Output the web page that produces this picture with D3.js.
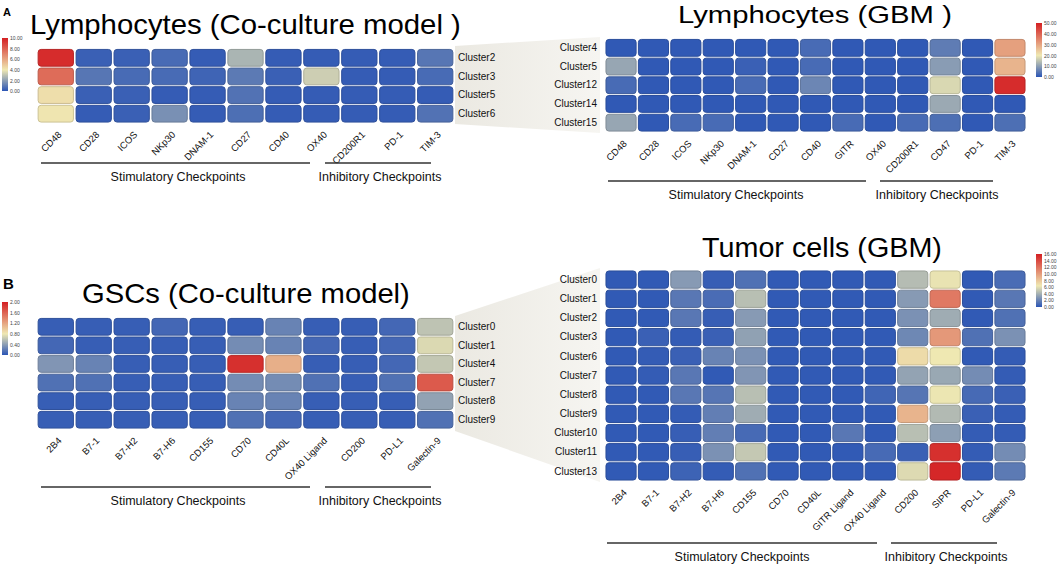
<!DOCTYPE html>
<html>
<head>
<meta charset="utf-8">
<script src="https://cdn.jsdelivr.net/npm/d3@7"></script>
<style>
  body { margin: 0; background: #fff; }
  svg { display: block; font-family: "Liberation Sans", Arial, sans-serif; }
</style>
</head>
<body>
<div id="chart"></div>
<script>
// ---- data ----
const lymphCoMarkers = ["CD48", "CD28", "ICOS", "NKp30", "DNAM-1", "CD27", "CD40", "OX40", "CD200R1", "PD-1", "TIM-3"];
const lymphCoClusters = ["Cluster2", "Cluster3", "Cluster5", "Cluster6"];
const lymphCoValues = [
  [9.6, 0.3, 0.3, 0.6, 0.2, 2.6, 0.2, 0.2, 0.2, 0.2, 0.9],
  [7.7, 0.9, 0.6, 0.6, 0.4, 1.0, 0.3, 3.3, 0.2, 0.2, 0.6],
  [4.3, 0.3, 0.3, 0.2, 0.2, 0.8, 0.2, 0.2, 0.2, 0.2, 0.2],
  [4.1, 0.2, 0.3, 1.6, 0.2, 0.7, 0.2, 0.2, 0.2, 0.2, 0.8]
];
const lymphCoLegend = [0, 2, 4, 6, 8, 10];

const lymphGbmMarkers = ["CD48", "CD28", "ICOS", "NKp30", "DNAM-1", "CD27", "CD40", "GITR", "OX40", "CD200R1", "CD47", "PD-1", "TIM-3"];
const lymphGbmClusters = ["Cluster4", "Cluster5", "Cluster12", "Cluster14", "Cluster15"];
const lymphGbmValues = [
  [0.5, 0.5, 0.5, 0.5, 0.5, 0.5, 3.0, 0.5, 0.5, 0.5, 5.3, 0.5, 30.8],
  [11.0, 0.5, 0.5, 0.5, 1.5, 0.5, 3.0, 0.5, 0.5, 0.5, 9.6, 0.5, 27.8],
  [3.0, 0.5, 0.5, 0.5, 3.0, 0.5, 6.6, 0.5, 0.5, 0.5, 17.8, 0.5, 48.0],
  [0.5, 0.5, 0.5, 0.5, 0.5, 0.5, 0.5, 0.5, 0.5, 0.5, 11.4, 0.5, 0.5],
  [11.0, 0.5, 3.0, 3.0, 0.5, 0.5, 0.5, 3.0, 0.5, 3.0, 3.5, 0.5, 3.5]
];
const lymphGbmLegend = [0, 10, 20, 30, 40, 50];

const gscMarkers = ["2B4", "B7-1", "B7-H2", "B7-H6", "CD155", "CD70", "CD40L", "OX40 Ligand", "CD200", "PD-L1", "Galectin-9"];
const gscClusters = ["Cluster0", "Cluster1", "Cluster4", "Cluster7", "Cluster8", "Cluster9"];
const gscValues = [
  [0.05, 0.05, 0.05, 0.1, 0.05, 0.05, 0.25, 0.05, 0.05, 0.1, 0.6],
  [0.1, 0.05, 0.05, 0.05, 0.05, 0.3, 0.25, 0.1, 0.05, 0.1, 0.72],
  [0.35, 0.25, 0.05, 0.05, 0.05, 1.9, 1.14, 0.05, 0.05, 0.1, 0.62],
  [0.15, 0.15, 0.05, 0.05, 0.05, 0.3, 0.3, 0.15, 0.05, 0.15, 1.65],
  [0.05, 0.05, 0.05, 0.05, 0.05, 0.25, 0.25, 0.05, 0.05, 0.05, 0.42],
  [0.05, 0.05, 0.05, 0.05, 0.05, 0.15, 0.1, 0.05, 0.05, 0.05, 0.15]
];
const gscLegend = [0, 0.4, 0.8, 1.2, 1.6, 2.0];

const tumorMarkers = ["2B4", "B7-1", "B7-H2", "B7-H6", "CD155", "CD70", "CD40L", "GITR Ligand", "OX40 Ligand", "CD200", "SIPR", "PD-L1", "Galectin-9"];
const tumorClusters = ["Cluster0", "Cluster1", "Cluster2", "Cluster3", "Cluster6", "Cluster7", "Cluster8", "Cluster9", "Cluster10", "Cluster11", "Cluster13"];
const tumorValues = [
  [0.2, 0.2, 3.0, 0.4, 1.2, 0.2, 0.2, 0.2, 0.2, 4.5, 6.2, 0.2, 1.0],
  [0.2, 0.2, 1.5, 1.0, 4.6, 0.2, 0.2, 0.2, 0.2, 3.0, 11.7, 0.2, 1.5],
  [0.2, 0.2, 1.5, 0.4, 3.0, 0.2, 0.2, 0.2, 0.2, 2.6, 3.8, 0.2, 1.2],
  [0.2, 0.5, 0.3, 0.5, 3.3, 0.2, 0.2, 0.2, 0.2, 2.2, 10.2, 1.2, 2.6],
  [0.2, 0.3, 0.5, 2.0, 2.6, 0.2, 0.2, 0.2, 0.2, 7.0, 6.4, 0.2, 0.3],
  [0.2, 0.3, 1.5, 0.2, 2.8, 0.2, 0.2, 0.2, 0.2, 3.4, 3.6, 2.4, 0.3],
  [0.2, 0.2, 1.5, 1.4, 4.6, 0.2, 0.2, 0.2, 0.7, 1.4, 6.3, 0.9, 0.5],
  [0.2, 0.2, 0.3, 1.8, 3.8, 0.2, 0.2, 0.2, 0.2, 8.9, 4.4, 0.5, 0.3],
  [0.2, 0.2, 0.4, 1.8, 0.9, 0.2, 0.2, 1.5, 0.2, 4.6, 3.2, 0.3, 0.3],
  [0.2, 0.2, 0.4, 2.6, 5.0, 0.2, 0.2, 0.2, 0.9, 0.5, 15.2, 0.3, 2.4],
  [0.2, 0.2, 0.6, 0.3, 1.2, 0.2, 0.2, 0.2, 0.2, 5.8, 15.6, 0.3, 1.6]
];
const tumorLegend = [0, 2, 4, 6, 8, 10, 12, 14, 16];

const colorStops = ["#2b55b5", "#efe8b2", "#d41f22"];

// ---- drawing ----
const width = 1057, height = 566;
const svg = d3.select("#chart").append("svg")
  .attr("width", width)
  .attr("height", height);

const defs = svg.append("defs");

// grey "projection" planes between the panels
const plane = defs.append("linearGradient").attr("id", "plane");
plane.append("stop").attr("offset", "0%").attr("stop-color", "#ebe9e2");
plane.append("stop").attr("offset", "100%").attr("stop-color", "#f6f5f1");

const connectors = [
  [[455, 46], [600, 37], [600, 133], [455, 124]],
  [[455, 316], [600, 268], [600, 482], [455, 431]]
];
svg.append("g").selectAll("polygon")
  .data(connectors)
  .join("polygon")
  .attr("points", d => d.map(p => p.join(",")).join(" "))
  .attr("fill", "url(#plane)");

function heatmap(cfg) {
  const x = d3.scaleBand()
    .domain(cfg.cols)
    .range([cfg.x0, cfg.x1])
    .paddingInner(0.07)
    .paddingOuter(0.03);

  const y = d3.scaleBand()
    .domain(cfg.rows)
    .range([cfg.y0, cfg.y1])
    .paddingInner(0.1)
    .paddingOuter(0.05);

  const color = d3.scaleLinear()
    .domain([0, cfg.max * 0.4, cfg.max])
    .range(colorStops)
    .clamp(true);

  const cells = cfg.values.flatMap((r, i) => r.map((v, j) => ({ row: cfg.rows[i], col: cfg.cols[j], v })));

  svg.append("g")
    .selectAll("rect")
    .data(cells)
    .join("rect")
    .attr("x", d => x(d.col))
    .attr("y", d => y(d.row))
    .attr("width", x.bandwidth())
    .attr("height", y.bandwidth())
    .attr("rx", 3)
    .attr("fill", d => color(d.v))
    .attr("stroke", d => d3.color(color(d.v)).darker(0.45))
    .attr("stroke-width", 1);

  // cluster labels
  const right = cfg.labelSide === "right";
  svg.append("g")
    .attr("transform", `translate(${right ? cfg.x1 + 4 : cfg.x0 - 8},0)`)
    .call((right ? d3.axisRight(y) : d3.axisLeft(y)).tickSize(0).tickPadding(0))
    .call(g => g.select(".domain").remove())
    .call(g => g.selectAll("text")
      .attr("font-size", "10px")
      .attr("font-family", "Liberation Sans, Arial, sans-serif")
      .attr("fill", "#111"));

  // marker labels
  svg.append("g")
    .attr("transform", `translate(0,${cfg.y1})`)
    .call(d3.axisBottom(x).tickSize(0))
    .call(g => g.select(".domain").remove())
    .call(g => g.selectAll("text")
      .attr("x", 0)
      .attr("y", 0)
      .attr("dy", "0.35em")
      .attr("text-anchor", "end")
      .attr("transform", "translate(4,10) rotate(-45)")
      .attr("font-size", "9.5px")
      .attr("font-family", "Liberation Sans, Arial, sans-serif")
      .attr("fill", "#111"));

  // colour legend
  const gid = "grad" + cfg.id;
  const grad = defs.append("linearGradient")
    .attr("id", gid)
    .attr("x1", 0).attr("y1", 1).attr("x2", 0).attr("y2", 0);
  grad.selectAll("stop")
    .data([0, 0.4, 1])
    .join("stop")
    .attr("offset", d => d * 100 + "%")
    .attr("stop-color", (d, i) => colorStops[i]);

  const L = cfg.legend;
  const ly = d3.scaleLinear().domain([0, cfg.max]).range([L.y1, L.y0]);
  svg.append("rect")
    .attr("x", L.x)
    .attr("y", L.y0)
    .attr("width", 6)
    .attr("height", L.y1 - L.y0)
    .attr("fill", `url(#${gid})`);
  svg.append("g")
    .attr("transform", `translate(${L.x + 7},0)`)
    .call(d3.axisRight(ly).tickValues(cfg.legendTicks).tickFormat(d3.format(".2f")).tickSize(0).tickPadding(1))
    .call(g => g.select(".domain").remove())
    .call(g => g.selectAll("text")
      .attr("font-size", "5px")
      .attr("font-family", "Liberation Sans, Arial, sans-serif")
      .attr("fill", "#444"));

  // group brackets
  cfg.groups.forEach(gr => {
    svg.append("line")
      .attr("x1", gr.a).attr("x2", gr.b)
      .attr("y1", cfg.lineY).attr("y2", cfg.lineY)
      .attr("stroke", "#333")
      .attr("stroke-width", 1.4);
    svg.append("text")
      .attr("x", gr.c)
      .attr("y", cfg.lineY + 18)
      .attr("text-anchor", "middle")
      .attr("font-size", "12.5px")
      .attr("fill", "#111")
      .text(gr.label);
  });

  // title, stretched to the width it has in the figure
  const t = svg.append("text")
    .attr("font-size", cfg.title.size + "px")
    .attr("fill", "#000")
    .text(cfg.title.text);
  const w = t.node().getComputedTextLength();
  t.attr("transform", `translate(${cfg.title.x0},${cfg.title.y}) scale(${(cfg.title.x1 - cfg.title.x0) / w},1)`);
}

heatmap({
  id: "a1", cols: lymphCoMarkers, rows: lymphCoClusters, values: lymphCoValues, max: 10,
  x0: 37, x1: 454, y0: 48.5, y1: 123, labelSide: "right",
  legend: { x: 2, y0: 38, y1: 91 }, legendTicks: lymphCoLegend,
  lineY: 163,
  groups: [
    { a: 41, b: 310, c: 178, label: "Stimulatory Checkpoints" },
    { a: 325, b: 431, c: 380, label: "Inhibitory Checkpoints" }
  ],
  title: { text: "Lymphocytes (Co-culture model )", x0: 30, x1: 461, y: 34, size: 27.5 }
});

heatmap({
  id: "a2", cols: lymphGbmMarkers, rows: lymphGbmClusters, values: lymphGbmValues, max: 50,
  x0: 605, x1: 1026, y0: 38.5, y1: 132, labelSide: "left",
  legend: { x: 1036, y0: 23, y1: 77 }, legendTicks: lymphGbmLegend,
  lineY: 181,
  groups: [
    { a: 608, b: 866, c: 736, label: "Stimulatory Checkpoints" },
    { a: 880, b: 993, c: 937, label: "Inhibitory Checkpoints" }
  ],
  title: { text: "Lymphocytes (GBM )", x0: 678, x1: 952, y: 23, size: 24 }
});

heatmap({
  id: "b1", cols: gscMarkers, rows: gscClusters, values: gscValues, max: 2,
  x0: 37, x1: 454, y0: 317.5, y1: 429, labelSide: "right",
  legend: { x: 2, y0: 302, y1: 355 }, legendTicks: gscLegend,
  lineY: 487,
  groups: [
    { a: 41, b: 310, c: 178, label: "Stimulatory Checkpoints" },
    { a: 325, b: 431, c: 380, label: "Inhibitory Checkpoints" }
  ],
  title: { text: "GSCs (Co-culture model)", x0: 82, x1: 410, y: 303, size: 27.5 }
});

heatmap({
  id: "b2", cols: tumorMarkers, rows: tumorClusters, values: tumorValues, max: 16,
  x0: 605, x1: 1026, y0: 270, y1: 481, labelSide: "left",
  legend: { x: 1036, y0: 254, y1: 307 }, legendTicks: tumorLegend,
  lineY: 543,
  groups: [
    { a: 607, b: 877, c: 742, label: "Stimulatory Checkpoints" },
    { a: 891, b: 997, c: 946, label: "Inhibitory Checkpoints" }
  ],
  title: { text: "Tumor cells (GBM)", x0: 702, x1: 942, y: 257, size: 27 }
});

// panel letters
svg.append("text").attr("x", 3).attr("y", 16).attr("font-size", "11px").attr("font-weight", "bold").text("A");
svg.append("text").attr("x", 3).attr("y", 289).attr("font-size", "15px").attr("font-weight", "bold").text("B");
</script>
</body>
</html>
